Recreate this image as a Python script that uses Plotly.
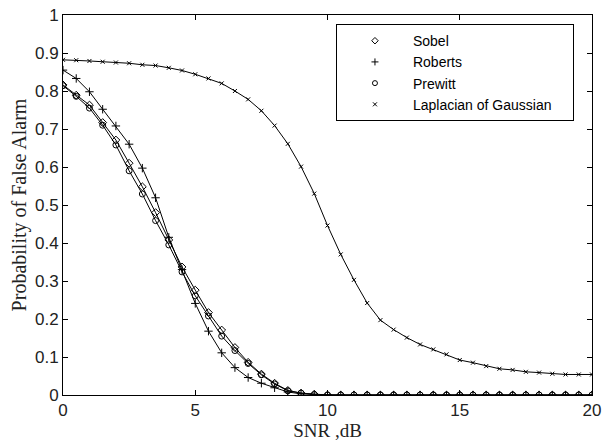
import plotly.graph_objects as go

snr = [i * 0.5 for i in range(41)]

sobel = [0.816, 0.789, 0.763, 0.717, 0.671, 0.610, 0.548, 0.480, 0.408, 0.337,
         0.276, 0.217, 0.171, 0.125, 0.086, 0.055, 0.031, 0.012, 0.005, 0.002,
         0, 0, 0, 0, 0, 0, 0, 0, 0, 0, 0, 0, 0, 0, 0, 0, 0, 0, 0, 0, 0]
roberts = [0.855, 0.833, 0.798, 0.752, 0.708, 0.660, 0.597, 0.519, 0.415, 0.330,
           0.241, 0.168, 0.111, 0.072, 0.046, 0.031, 0.019, 0.008, 0.003, 0.001,
           0, 0, 0, 0, 0, 0, 0, 0, 0, 0, 0, 0, 0, 0, 0, 0, 0, 0, 0, 0, 0]
prewitt = [0.814, 0.786, 0.755, 0.710, 0.658, 0.590, 0.529, 0.459, 0.395, 0.324,
           0.261, 0.208, 0.155, 0.117, 0.083, 0.053, 0.029, 0.011, 0.005, 0.001,
           0, 0, 0, 0, 0, 0, 0, 0, 0, 0, 0, 0, 0, 0, 0, 0, 0, 0, 0, 0, 0]
log_ = [0.882, 0.881, 0.879, 0.877, 0.875, 0.873, 0.869, 0.867, 0.861, 0.854,
        0.844, 0.833, 0.820, 0.800, 0.778, 0.748, 0.709, 0.661, 0.601, 0.530,
        0.446, 0.370, 0.303, 0.242, 0.197, 0.172, 0.151, 0.133, 0.120, 0.107,
        0.092, 0.085, 0.076, 0.069, 0.066, 0.061, 0.059, 0.056, 0.054, 0.054, 0.054]

names = ["Sobel", "Roberts", "Prewitt", "Laplacian of Gaussian"]
series = [sobel, roberts, prewitt, log_]
symbols = ["diamond-open", "cross-thin-open", "circle-open", "x-thin-open"]
sizes = [6, 6, 6, 4]

x_ticks = [0, 5, 10, 15, 20]
y_ticks = [0, 0.1, 0.2, 0.3, 0.4, 0.5, 0.6, 0.7, 0.8, 0.9, 1]
y_ticktext = ["0", "0.1", "0.2", "0.3", "0.4", "0.5", "0.6", "0.7", "0.8", "0.9", "1"]

fig = go.Figure()
for name, ys, sym, sz in zip(names, series, symbols, sizes):
    fig.add_trace(go.Scatter(
        x=snr, y=ys, mode="lines+markers", name=name, showlegend=False,
        line=dict(color="black", width=1),
        marker=dict(symbol=sym, size=sz, color="black", line=dict(color="black", width=1)),
    ))
pad = "\u00a0" * 4
for name, sym, sz in zip(names, symbols, sizes):
    fig.add_trace(go.Scatter(
        x=[None], y=[None], mode="markers", name=name + (pad if len(name) > 10 else ""),
        showlegend=True,
        marker=dict(symbol=sym, size=5 if sz > 4 else 4, color="black",
                    line=dict(color="black", width=1)),
    ))

axis_common = dict(
    showline=True, linecolor="black", linewidth=1, mirror="ticks",
    ticks="inside", ticklen=5, tickcolor="black", showgrid=False, zeroline=False,
    automargin=False,
    tickfont=dict(family="Liberation Sans", size=17, color="#222"),
)
fig.update_xaxes(range=[0, 20], tickvals=x_ticks, **axis_common,
                 title=dict(text="SNR ,dB", font=dict(family="Liberation Serif", size=19, color="#222"), standoff=0))
fig.update_yaxes(range=[0, 1], tickvals=y_ticks, ticktext=y_ticktext, **axis_common,
                 title=dict(text="Probability of False Alarm", font=dict(family="Liberation Serif", size=20, color="#222"), standoff=2))

fig.update_layout(
    width=607, height=442,
    margin=dict(l=63, r=15, t=15, b=47),
    plot_bgcolor="white", paper_bgcolor="white",
    legend=dict(x=0.516, y=0.976, xanchor="left", yanchor="top",
                bgcolor="white", bordercolor="black", borderwidth=1,
                font=dict(family="Liberation Sans", size=14, color="black"),
                itemwidth=66, tracegroupgap=0),
)
fig.write_html("out.html", config={"displayModeBar": False},
               post_script="document.body.style.margin='0';document.body.style.padding='0';")
